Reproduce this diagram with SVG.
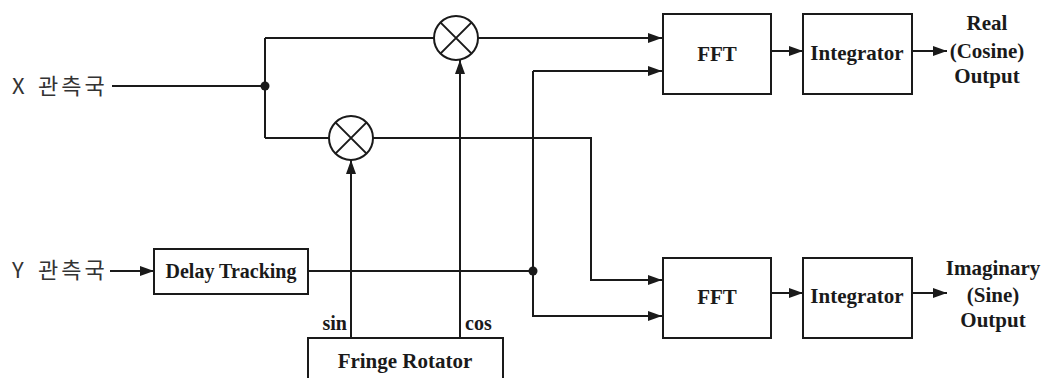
<svg xmlns="http://www.w3.org/2000/svg" width="1054" height="378" viewBox="0 0 1054 378">
<defs>
<style>
.ln{fill:none;stroke:#1a1a1a;stroke-width:2}
.bx{fill:#fff;stroke:#1a1a1a;stroke-width:2}
.lb{font-family:"Liberation Serif","Times New Roman",serif;font-weight:bold;font-size:21px;fill:#1a1a1a;text-anchor:middle}
.kr{font-family:"Noto Sans CJK KR","Noto Sans",sans-serif;font-size:22px;fill:#333}
</style>
<marker id="ar" viewBox="0 0 14 10" refX="14" refY="5" markerWidth="14" markerHeight="10" markerUnits="userSpaceOnUse" orient="auto">
<path d="M0,0 L14,5 L0,10 Z" fill="#1a1a1a"/>
</marker>
</defs>
<rect width="1054" height="378" fill="#fff"/>
<g id="connectors">
<path class="ln" d="M112,86 H265"/>
<path class="ln" d="M265,38 V138"/>
<path class="ln" d="M265,38 H434"/>
<path class="ln" d="M265,138 H329"/>
<path class="ln" d="M478,38 H662" marker-end="url(#ar)"/>
<path class="ln" d="M373,138 H591 V280 H662" marker-end="url(#ar)"/>
<path class="ln" d="M110,271 H154" marker-end="url(#ar)"/>
<path class="ln" d="M308,271 H533"/>
<path class="ln" d="M533,71 V316 H662" marker-end="url(#ar)"/>
<path class="ln" d="M533,71 H662" marker-end="url(#ar)"/>
<path class="ln" d="M351,338 V160" marker-end="url(#ar)"/>
<path class="ln" d="M460,338 V60" marker-end="url(#ar)"/>
<path class="ln" d="M771,51 H803" marker-end="url(#ar)"/>
<path class="ln" d="M912,51 H947" marker-end="url(#ar)"/>
<path class="ln" d="M771,293 H803" marker-end="url(#ar)"/>
<path class="ln" d="M912,293 H947" marker-end="url(#ar)"/>
<circle cx="265" cy="86" r="4.5" fill="#1a1a1a"/>
<circle cx="533" cy="271" r="4.5" fill="#1a1a1a"/>
</g>
<g id="x-station"><text class="kr" x="12" y="94">X<tspan x="30" letter-spacing="3"> 관측국</tspan></text></g>
<g id="y-station"><text class="kr" x="12" y="278">Y<tspan x="30" letter-spacing="3"> 관측국</tspan></text></g>
<g id="mult-top">
<circle class="bx" cx="456" cy="38" r="22"/>
<path class="ln" d="M440.4,22.4 L471.6,53.6 M471.6,22.4 L440.4,53.6"/>
</g>
<g id="mult-bottom">
<circle class="bx" cx="351" cy="138" r="22"/>
<path class="ln" d="M335.4,122.4 L366.6,153.6 M366.6,122.4 L335.4,153.6"/>
</g>
<g id="delay-tracking">
<rect class="bx" x="154" y="249" width="154" height="45"/>
<text class="lb" x="231" y="278" style="font-size:20px">Delay Tracking</text>
</g>
<g id="fringe-rotator">
<rect class="bx" x="308" y="338" width="195" height="60"/>
<text class="lb" x="405" y="368">Fringe Rotator</text>
<text class="lb" x="347" y="330" style="text-anchor:end;font-size:20px">sin</text>
<text class="lb" x="465" y="330" style="text-anchor:start;font-size:20px">cos</text>
</g>
<g id="fft-top">
<rect class="bx" x="663" y="14" width="108" height="80"/>
<text class="lb" x="717" y="61">FFT</text>
</g>
<g id="int-top">
<rect class="bx" x="803" y="14" width="109" height="80"/>
<text class="lb" x="857" y="60">Integrator</text>
</g>
<g id="out-real">
<text class="lb" x="987" y="30">Real</text>
<text class="lb" x="987" y="58">(Cosine)</text>
<text class="lb" x="987" y="83">Output</text>
</g>
<g id="fft-bottom">
<rect class="bx" x="663" y="258" width="108" height="80"/>
<text class="lb" x="717" y="304">FFT</text>
</g>
<g id="int-bottom">
<rect class="bx" x="803" y="258" width="109" height="80"/>
<text class="lb" x="857" y="303">Integrator</text>
</g>
<g id="out-imag">
<text class="lb" x="993" y="275">Imaginary</text>
<text class="lb" x="993" y="302">(Sine)</text>
<text class="lb" x="993" y="327">Output</text>
</g>
</svg>
